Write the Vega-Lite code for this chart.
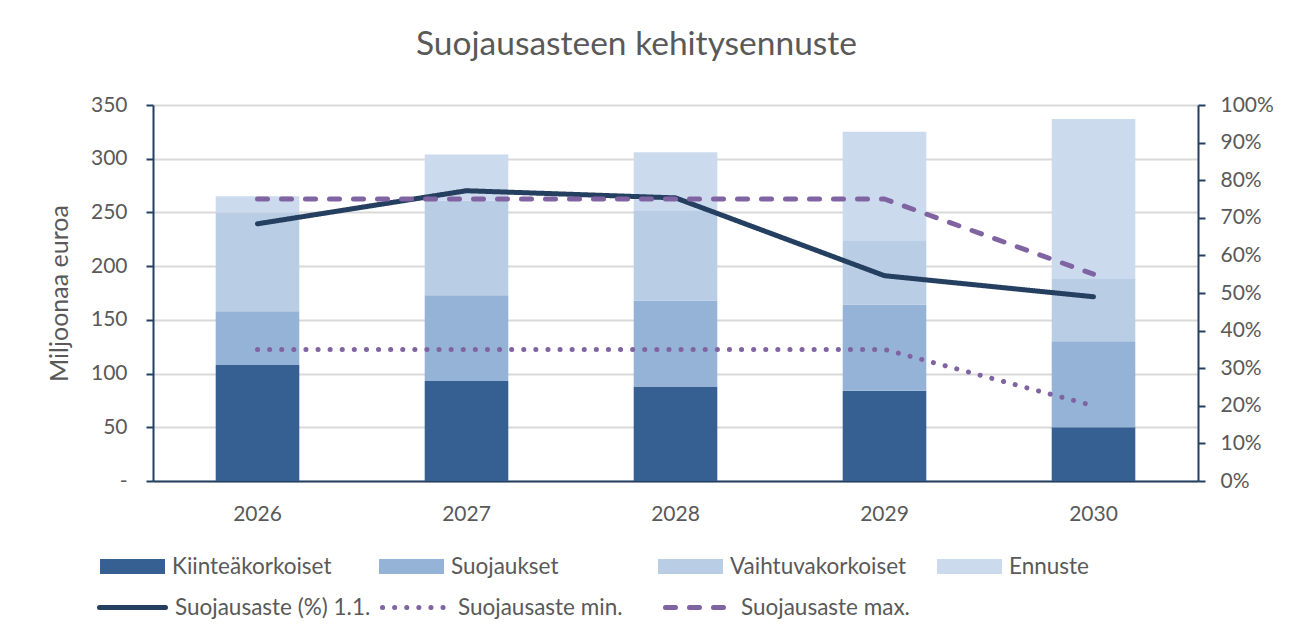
{
  "$schema": "https://vega.github.io/schema/vega-lite/v6.json",
  "width": 1045,
  "height": 376,
  "autosize": {"type": "none"},
  "padding": {"left": 153, "top": 105, "right": 92, "bottom": 161},
  "background": "white",
  "config": {"font": "Lato", "view": {"stroke": null}},
  "title": {"text": "Suojausasteen kehitysennuste", "fontSize": 33.5, "font": "Lato", "fontWeight": "normal", "color": "#595959", "anchor": "middle", "dx": -39, "offset": 32},
  "datasets": {
    "bars": [
      {"year": "2026", "category": "Kiinteäkorkoiset", "ord": 1, "value": 108},
      {"year": "2026", "category": "Suojaukset", "ord": 2, "value": 50},
      {"year": "2026", "category": "Vaihtuvakorkoiset", "ord": 3, "value": 92},
      {"year": "2026", "category": "Ennuste", "ord": 4, "value": 15},
      {"year": "2027", "category": "Kiinteäkorkoiset", "ord": 1, "value": 93},
      {"year": "2027", "category": "Suojaukset", "ord": 2, "value": 80},
      {"year": "2027", "category": "Vaihtuvakorkoiset", "ord": 3, "value": 88},
      {"year": "2027", "category": "Ennuste", "ord": 4, "value": 43},
      {"year": "2028", "category": "Kiinteäkorkoiset", "ord": 1, "value": 88},
      {"year": "2028", "category": "Suojaukset", "ord": 2, "value": 80},
      {"year": "2028", "category": "Vaihtuvakorkoiset", "ord": 3, "value": 84},
      {"year": "2028", "category": "Ennuste", "ord": 4, "value": 54},
      {"year": "2029", "category": "Kiinteäkorkoiset", "ord": 1, "value": 84},
      {"year": "2029", "category": "Suojaukset", "ord": 2, "value": 80},
      {"year": "2029", "category": "Vaihtuvakorkoiset", "ord": 3, "value": 60},
      {"year": "2029", "category": "Ennuste", "ord": 4, "value": 101},
      {"year": "2030", "category": "Kiinteäkorkoiset", "ord": 1, "value": 50},
      {"year": "2030", "category": "Suojaukset", "ord": 2, "value": 80},
      {"year": "2030", "category": "Vaihtuvakorkoiset", "ord": 3, "value": 58},
      {"year": "2030", "category": "Ennuste", "ord": 4, "value": 149}
    ],
    "lines": [
      {"year": "2026", "series": "Suojausaste (%) 1.1.", "pct": 0.684},
      {"year": "2027", "series": "Suojausaste (%) 1.1.", "pct": 0.772},
      {"year": "2028", "series": "Suojausaste (%) 1.1.", "pct": 0.753},
      {"year": "2029", "series": "Suojausaste (%) 1.1.", "pct": 0.546},
      {"year": "2030", "series": "Suojausaste (%) 1.1.", "pct": 0.49},
      {"year": "2026", "series": "Suojausaste min.", "pct": 0.35},
      {"year": "2027", "series": "Suojausaste min.", "pct": 0.35},
      {"year": "2028", "series": "Suojausaste min.", "pct": 0.35},
      {"year": "2029", "series": "Suojausaste min.", "pct": 0.35},
      {"year": "2030", "series": "Suojausaste min.", "pct": 0.20},
      {"year": "2026", "series": "Suojausaste max.", "pct": 0.75},
      {"year": "2027", "series": "Suojausaste max.", "pct": 0.75},
      {"year": "2028", "series": "Suojausaste max.", "pct": 0.75},
      {"year": "2029", "series": "Suojausaste max.", "pct": 0.75},
      {"year": "2030", "series": "Suojausaste max.", "pct": 0.55}
    ]
  },
  "layer": [
    {
      "data": {"name": "bars"},
      "mark": {"type": "bar"},
      "encoding": {
        "x": {
          "field": "year", "type": "nominal",
          "scale": {"paddingInner": 0.6, "paddingOuter": 0.3},
          "axis": {"title": null, "labelAngle": 0, "ticks": false, "grid": false, "domainColor": "#243F60", "domainWidth": 2, "labelFontSize": 21, "labelColor": "#595959", "labelPadding": 22}
        },
        "y": {
          "field": "value", "type": "quantitative", "stack": "zero",
          "scale": {"domain": [0, 350], "nice": false},
          "axis": {"title": "Miljoonaa euroa", "values": [0, 50, 100, 150, 200, 250, 300, 350], "labelExpr": "datum.value === 0 ? '-\u00a0\u00a0\u00a0' : datum.label", "grid": true, "gridColor": "#D9D9D9", "gridWidth": 2, "domainColor": "#243F60", "domainWidth": 2, "tickColor": "#243F60", "tickSize": 7, "tickWidth": 2, "labelFontSize": 21, "labelColor": "#595959", "labelPadding": 19, "titleFontSize": 25, "titleColor": "#595959", "titleFontWeight": "normal", "titlePadding": 18}
        },
        "fill": {
          "field": "category", "type": "nominal",
          "scale": {"domain": ["Kiinteäkorkoiset", "Suojaukset", "Vaihtuvakorkoiset", "Ennuste"], "range": ["#376092", "#95B3D7", "#B9CDE5", "#CCDAEE"]},
          "legend": {"title": null, "orient": "none", "legendX": -53, "legendY": 429, "direction": "horizontal", "columns": 4, "gridAlign": "all", "columnPadding": 30, "symbolType": "M-1,-0.23H1V0.23H-1Z", "symbolSize": 4225, "symbolStrokeWidth": 0, "symbolOpacity": 1, "labelFontSize": 22.5, "labelColor": "#595959", "labelOffset": 7, "labelLimit": 400}
        },
        "order": {"field": "ord", "type": "quantitative"}
      }
    },
    {
      "data": {"name": "lines"},
      "encoding": {
        "x": {"field": "year", "type": "nominal"},
        "y": {
          "field": "pct", "type": "quantitative",
          "scale": {"domain": [0, 1], "nice": false},
          "axis": {"orient": "right", "title": null, "format": ".0%", "values": [0, 0.1, 0.2, 0.3, 0.4, 0.5, 0.6, 0.7, 0.8, 0.9, 1], "grid": false, "domainColor": "#243F60", "domainWidth": 2, "tickColor": "#243F60", "tickSize": 7, "tickWidth": 2, "labelFontSize": 21, "labelColor": "#595959", "labelPadding": 15}
        },
        "stroke": {
          "field": "series", "type": "nominal",
          "scale": {"domain": ["Suojausaste (%) 1.1.", "Suojausaste min.", "Suojausaste max."], "range": ["#243F60", "#8064A2", "#8064A2"]},
          "legend": {"title": null, "orient": "none", "legendX": -56, "legendY": 467, "direction": "horizontal", "columns": 3, "gridAlign": "all", "columnPadding": 1, "symbolType": "stroke", "symbolSize": 4356, "symbolStrokeWidth": 5, "labelFontSize": 22.5, "labelColor": "#595959", "labelOffset": 7, "labelLimit": 400, "encode": {"symbols": {"update": {"strokeCap": {"value": "round"}}}}}
        },
        "strokeDash": {
          "field": "series", "type": "nominal",
          "scale": {"domain": ["Suojausaste (%) 1.1.", "Suojausaste min.", "Suojausaste max."], "range": [[1, 0], [0.1, 12], [10, 14]]},
          "legend": {"title": null, "orient": "none", "legendX": -56, "legendY": 467, "direction": "horizontal", "columns": 3, "gridAlign": "all", "columnPadding": 1, "symbolType": "stroke", "symbolSize": 4356, "symbolStrokeWidth": 5, "labelFontSize": 22.5, "labelColor": "#595959", "labelOffset": 7, "labelLimit": 400, "encode": {"symbols": {"update": {"strokeCap": {"value": "round"}}}}}
        }
      },
      "layer": [
        {
          "transform": [{"filter": "datum.series === 'Suojausaste (%) 1.1.'"}],
          "mark": {"type": "line", "strokeWidth": 5, "strokeCap": "round", "strokeJoin": "round"}
        },
        {
          "transform": [{"filter": "datum.series === 'Suojausaste min.'"}],
          "mark": {"type": "line", "strokeWidth": 5, "strokeCap": "round", "strokeJoin": "round"}
        },
        {
          "transform": [{"filter": "datum.series === 'Suojausaste max.'"}],
          "mark": {"type": "line", "strokeWidth": 5, "strokeCap": "round", "strokeJoin": "round"}
        }
      ]
    }
  ],
  "resolve": {"scale": {"y": "independent"}}
}
